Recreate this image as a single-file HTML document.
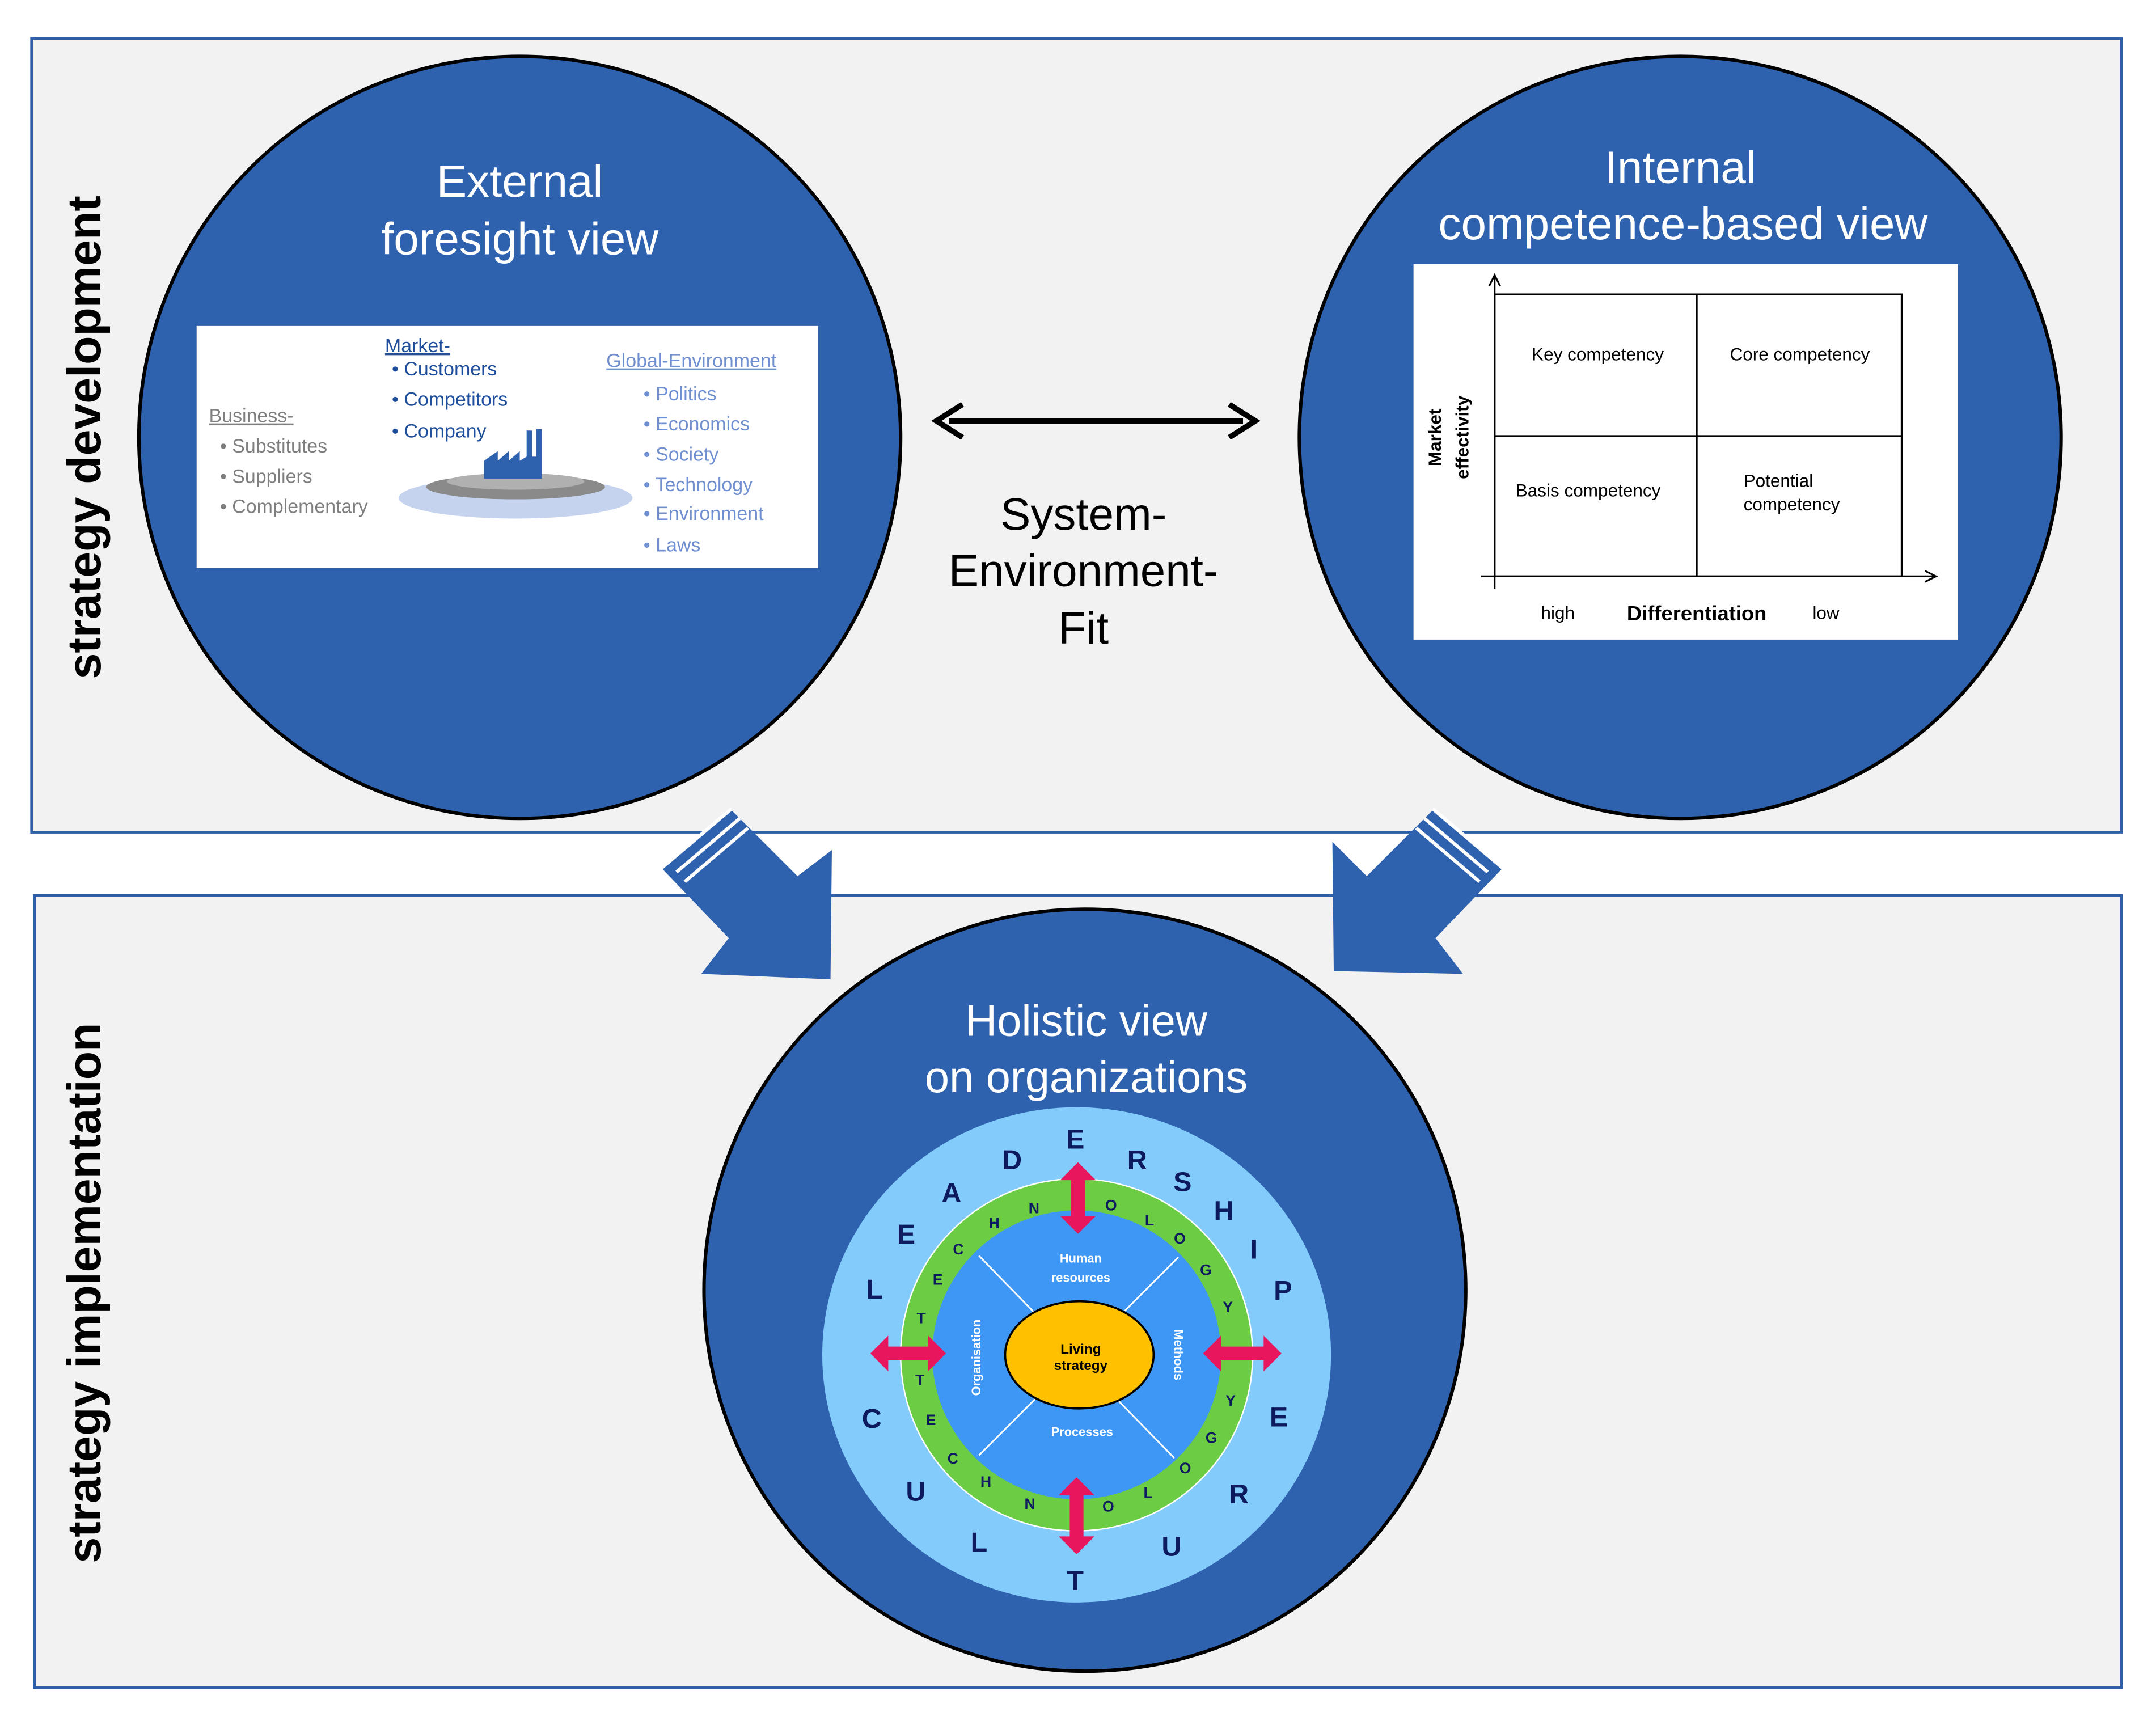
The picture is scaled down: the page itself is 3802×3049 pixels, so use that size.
<!DOCTYPE html>
<html><head><meta charset="utf-8"><style>
html,body{margin:0;padding:0;background:#fff}
svg{display:block}
text{font-family:"Liberation Sans",sans-serif}
</style></head><body>
<svg width="3802" height="3049" viewBox="0 0 1568 1257" preserveAspectRatio="none" xmlns="http://www.w3.org/2000/svg">
<rect x="0" y="0" width="1568" height="1257" fill="#fff"/>
<rect x="23" y="28" width="1520" height="577" fill="#f2f2f2" stroke="#2e5fa8" stroke-width="2"/>
<rect x="25" y="651" width="1518" height="576" fill="#f2f2f2" stroke="#2e5fa8" stroke-width="2"/>

<text transform="translate(73,318) rotate(-90)" text-anchor="middle" font-size="34" font-weight="bold" fill="#000">strategy development</text>
<text transform="translate(73,940) rotate(-90)" text-anchor="middle" font-size="34" font-weight="bold" fill="#000">strategy implementation</text>

<!-- big arrows -->
<g fill="#2f62ae">
<polygon points="482,632 532,589 580,637 605,618 604,712 510,708 530,682"/>
<polygon points="1092,632 1042,589 994,637 969,612 970,706 1064,708 1044,682"/>
</g>
<g stroke="#fff" stroke-width="2.5">
<line x1="486" y1="627" x2="532" y2="588"/><line x1="492" y1="634" x2="538" y2="595"/><line x1="498" y1="641" x2="544" y2="602"/>
<line x1="1088" y1="627" x2="1042" y2="588"/><line x1="1082" y1="634" x2="1036" y2="595"/><line x1="1076" y1="641" x2="1030" y2="602"/>
</g>

<!-- circles -->
<circle cx="378" cy="318" r="277" fill="#2f62ae" stroke="#000" stroke-width="2.5"/>
<circle cx="1222" cy="318" r="277" fill="#2f62ae" stroke="#000" stroke-width="2.5"/>
<circle cx="789" cy="938" r="277" fill="#2f62ae" stroke="#000" stroke-width="2.5"/>

<text x="378" y="143" text-anchor="middle" font-size="33" fill="#fff">External</text>
<text x="378" y="185" text-anchor="middle" font-size="33" fill="#fff">foresight  view</text>
<text x="1222" y="133" text-anchor="middle" font-size="33" fill="#fff">Internal</text>
<text x="1224" y="174" text-anchor="middle" font-size="33" fill="#fff">competence-based  view</text>
<text x="790" y="753" text-anchor="middle" font-size="32" fill="#fff">Holistic view</text>
<text x="790" y="794" text-anchor="middle" font-size="32" fill="#fff">on organizations</text>

<!-- double arrow -->
<line x1="690" y1="306" x2="904" y2="306" stroke="#000" stroke-width="4"/>
<polyline points="700,294 681,306 700,318" fill="none" stroke="#000" stroke-width="4"/>
<polyline points="894,294 913,306 894,318" fill="none" stroke="#000" stroke-width="4"/>
<text x="788" y="385" text-anchor="middle" font-size="33" fill="#000">System-</text>
<text x="788" y="426" text-anchor="middle" font-size="33" fill="#000">Environment-</text>
<text x="788" y="468" text-anchor="middle" font-size="33" fill="#000">Fit</text>

<!-- left white box -->
<rect x="143" y="237" width="452" height="176" fill="#fff"/>
<g font-size="14">
<text x="280" y="256" fill="#1f4e9c" text-decoration="underline">Market-</text>
<text x="285" y="273" fill="#1f4e9c">• Customers</text>
<text x="285" y="295" fill="#1f4e9c">• Competitors</text>
<text x="285" y="318" fill="#1f4e9c">• Company</text>
<text x="152" y="307" fill="#7f7f7f" text-decoration="underline">Business-</text>
<text x="160" y="329" fill="#7f7f7f">• Substitutes</text>
<text x="160" y="351" fill="#7f7f7f">• Suppliers</text>
<text x="160" y="373" fill="#7f7f7f">• Complementary</text>
<text x="441" y="267" fill="#6f8fd0" text-decoration="underline">Global-Environment</text>
<text x="468" y="291" fill="#6f8fd0">• Politics</text>
<text x="468" y="313" fill="#6f8fd0">• Economics</text>
<text x="468" y="335" fill="#6f8fd0">• Society</text>
<text x="468" y="357" fill="#6f8fd0">• Technology</text>
<text x="468" y="378" fill="#6f8fd0">• Environment</text>
<text x="468" y="401" fill="#6f8fd0">• Laws</text>
</g>
<ellipse cx="375" cy="362" rx="85" ry="15" fill="#c5d3ee"/>
<ellipse cx="375" cy="354" rx="65" ry="9" fill="#8a8a8a"/>
<ellipse cx="375" cy="350" rx="50" ry="6" fill="#b0b0b0"/>
<polygon points="352,348 352,335 362,328 362,335 370,328 370,335 378,328 378,335 383,332 383,313 387,313 387,332 390,332 390,312 394,312 394,348" fill="#2f62ae"/>

<!-- right white box -->
<rect x="1028" y="192" width="396" height="273" fill="#fff"/>
<g stroke="#000" stroke-width="1.3" fill="none">
<line x1="1087" y1="428" x2="1087" y2="200"/>
<polyline points="1083,208 1087,200 1091,208"/>
<line x1="1077" y1="419" x2="1408" y2="419"/>
<polyline points="1400,415 1408,419 1400,423"/>
<rect x="1087" y="214" width="296" height="205"/>
<line x1="1234" y1="214" x2="1234" y2="419"/>
<line x1="1087" y1="317" x2="1383" y2="317"/>
</g>
<g font-size="13" fill="#000">
<text x="1162" y="262" text-anchor="middle">Key competency</text>
<text x="1309" y="262" text-anchor="middle">Core competency</text>
<text x="1155" y="361" text-anchor="middle">Basis competency</text>
<text x="1268" y="354">Potential</text>
<text x="1268" y="371">competency</text>
<text x="1133" y="450" text-anchor="middle">high</text>
<text x="1328" y="450" text-anchor="middle">low</text>
<text x="1234" y="451" text-anchor="middle" font-size="15" font-weight="bold">Differentiation</text>
<text transform="translate(1048,318) rotate(-90)" text-anchor="middle" font-weight="bold">Market</text>
<text transform="translate(1068,318) rotate(-90)" text-anchor="middle" font-weight="bold">effectivity</text>
</g>

<!-- holistic diagram -->
<ellipse cx="783" cy="985" rx="185" ry="180" fill="#83cbfb"/>
<circle cx="783" cy="985" r="128" fill="#6ccc44" stroke="#fff" stroke-width="1"/>
<circle cx="783" cy="985" r="105" fill="#3f97f5"/>
<g stroke="#fff" stroke-width="1.2">
<line x1="712" y1="913" x2="752" y2="954"/>
<line x1="857" y1="914" x2="818" y2="953"/>
<line x1="712" y1="1058" x2="754" y2="1016"/>
<line x1="854" y1="1060" x2="813" y2="1018"/>
</g>
<ellipse cx="785" cy="985" rx="54" ry="39" fill="#ffc000" stroke="#000" stroke-width="1.5"/>
<g font-size="10" font-weight="bold" text-anchor="middle">
<text x="786" y="984" fill="#000">Living</text>
<text x="786" y="996" fill="#000">strategy</text>
<text x="786" y="918" fill="#fff" font-size="9">Human</text>
<text x="786" y="932" fill="#fff" font-size="9">resources</text>
<text x="787" y="1044" fill="#fff" font-size="9">Processes</text>
<text transform="translate(713,987) rotate(-90)" fill="#fff" font-size="9">Organisation</text>
<text transform="translate(854,985) rotate(90)" fill="#fff" font-size="9">Methods</text>
</g>
<g font-size="20" font-weight="bold" fill="#0d1a5e" text-anchor="middle">
<text x="636" y="944">L</text><text x="659" y="904">E</text><text x="692" y="874">A</text>
<text x="736" y="850">D</text><text x="782" y="835">E</text><text x="827" y="850">R</text>
<text x="860" y="866">S</text><text x="890" y="887">H</text><text x="912" y="915">I</text>
<text x="933" y="945">P</text><text x="930" y="1037">E</text><text x="901" y="1093">R</text>
<text x="852" y="1131">U</text><text x="782" y="1156">T</text><text x="712" y="1128">L</text>
<text x="666" y="1091">U</text><text x="634" y="1038">C</text>
</g>
<g font-size="11" font-weight="bold" fill="#0d1a5e" text-anchor="middle">
<text x="670" y="962">T</text><text x="682" y="934">E</text><text x="697" y="912">C</text>
<text x="723" y="893">H</text><text x="752" y="882">N</text><text x="808" y="880">O</text>
<text x="836" y="891">L</text><text x="858" y="904">O</text><text x="877" y="927">G</text>
<text x="893" y="954">Y</text>
<text x="669" y="1007">T</text><text x="677" y="1036">E</text><text x="693" y="1064">C</text>
<text x="717" y="1081">H</text><text x="749" y="1097">N</text><text x="806" y="1099">O</text>
<text x="835" y="1089">L</text><text x="862" y="1071">O</text><text x="881" y="1049">G</text>
<text x="895" y="1022">Y</text>
</g>
<g fill="#e8175d">
<polygon points="784,845 797,858 789,858 789,884 797,884 784,897 771,884 779,884 779,858 771,858"/>
<polygon points="783,1074 796,1087 788,1087 788,1117 796,1117 783,1130 770,1117 778,1117 778,1087 770,1087"/>
<polygon points="633,984 646,971 646,979 675,979 675,971 688,984 675,997 675,989 646,989 646,997"/>
<polygon points="875,984 888,971 888,979 919,979 919,971 932,984 919,997 919,989 888,989 888,997"/>
</g>
</svg>
</body></html>
